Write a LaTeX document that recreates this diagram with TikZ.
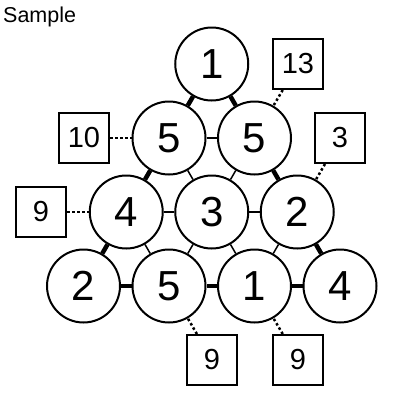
\documentclass[tikz,border=0pt]{standalone}
\usepackage{fontspec}
\setmainfont{Liberation Sans}
\begin{document}
\begin{tikzpicture}[x=1pt,y=-1pt,
  cell/.style={circle,draw,line width=2pt,minimum size=73pt,inner sep=0pt,fill=white,font=\fontsize{42}{42}\selectfont},
  clue/.style={rectangle,draw,line width=2pt,minimum size=50pt,inner sep=0pt,font=\fontsize{29}{29}\selectfont},
  thickedge/.style={line width=4.5pt},
  thinedge/.style={line width=1.5pt},
  dotline/.style={line width=2.5pt,dash pattern=on 2.5pt off 2.5pt}]
\useasboundingbox[fill=white] (0,0) rectangle (400,400);
\node[anchor=base west,inner sep=0pt,font=\fontsize{21.5}{21.5}\selectfont] (title) at (3,22.5) {Sample};
% cells
\node[cell] (r1) at (211.75,64) {1};
\node[cell] (a) at (169,138) {5};
\node[cell] (b) at (254.5,138) {5};
\node[cell] (c) at (126.25,212) {4};
\node[cell] (d) at (211.75,212) {3};
\node[cell] (e) at (297.25,212) {2};
\node[cell] (f) at (83.5,286) {2};
\node[cell] (g) at (169,286) {5};
\node[cell] (h) at (254.5,286) {1};
\node[cell] (i) at (340,286) {4};
% clues
\node[clue] (k13) at (298,64) {13};
\node[clue] (k10) at (84,138) {10};
\node[clue] (k3) at (340,138) {3};
\node[clue] (k9l) at (41,212) {9};
\node[clue] (k9a) at (212,360) {9};
\node[clue] (k9b) at (298,360) {9};
% thick edges
\draw[thickedge] (r1) -- (a);
\draw[thickedge] (r1) -- (b);
\draw[thickedge] (a) -- (c);
\draw[thickedge] (b) -- (e);
\draw[thickedge] (c) -- (f);
\draw[thickedge] (e) -- (i);
\draw[thickedge] (f) -- (g);
\draw[thickedge] (g) -- (h);
\draw[thickedge] (h) -- (i);
% thin edges
\draw[thinedge] (a) -- (b);
\draw[thinedge] (a) -- (d);
\draw[thinedge] (b) -- (d);
\draw[thinedge] (c) -- (d);
\draw[thinedge] (d) -- (e);
\draw[thinedge] (c) -- (g);
\draw[thinedge] (d) -- (g);
\draw[thinedge] (d) -- (h);
\draw[thinedge] (e) -- (h);
% dotted clue links
\draw[dotline] (k13) -- (b);
\draw[dotline] (k10) -- (a);
\draw[dotline] (k3) -- (e);
\draw[dotline] (k9l) -- (c);
\draw[dotline] (k9a) -- (g);
\draw[dotline] (k9b) -- (h);
\end{tikzpicture}
\end{document}
